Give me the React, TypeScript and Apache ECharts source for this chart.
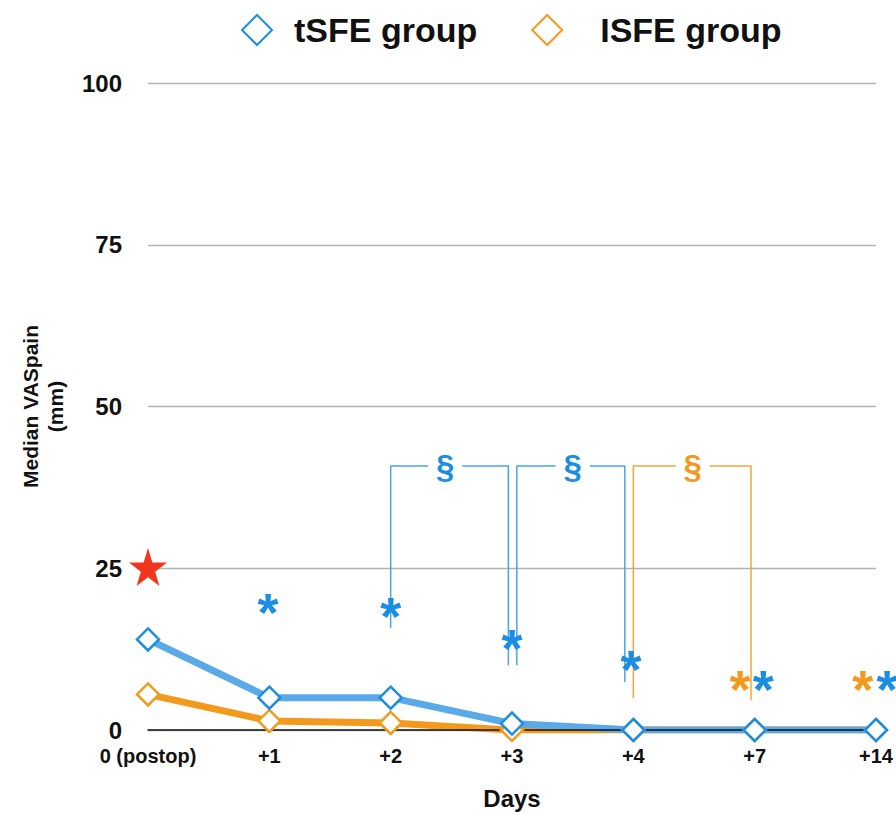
import React, { useEffect, useRef } from "react";
import * as echarts from "echarts";

const categories = ["0 (postop)", "+1", "+2", "+3", "+4", "+7", "+14"];
const tSFE = [14, 5, 5, 1, 0, 0, 0];
const ISFE = [5.5, 1.4, 1.1, 0, 0, 0, 0];
const yTicks = { min: 0, max: 100, interval: 25 };

// annotations in (day-index, VAS) coordinates
const starPoint = [[0, 25.2]];
const blueAsterisks = [[0.99, 19.6], [2.0, 19.0], [3.0, 14.0], [3.98, 10.8], [5.07, 7.8], [6.09, 7.8]];
const orangeAsterisks = [[4.88, 7.8], [5.89, 7.8]];
const bracketBlue1 = [[2.0, 15.8], [2.0, 40.8], [2.97, 40.8], [2.97, 10.0]];
const bracketBlue2 = [[3.04, 10.0], [3.04, 40.8], [3.93, 40.8], [3.93, 7.4]];
const bracketOrange = [[4.0, 4.9], [4.0, 40.8], [4.97, 40.8], [4.97, 4.6]];
const blueSections = [[2.45, 40.8], [3.5, 40.8]];
const orangeSections = [[4.49, 40.8]];

const BLUE = "#1b8ee3";
const BLUE_LINE = "#5aaaea";
const ORANGE = "#f39a1e";
const FONT = "'Liberation Sans', Arial, sans-serif";

export default function App() {
  const ref = useRef<HTMLDivElement>(null);
  useEffect(() => {
    if (!ref.current) return;
    const chart = echarts.init(ref.current, undefined, { renderer: "svg" });
    const starPath =
      "path://M50,0 L61,35 L98,35 L68,57 L79,91 L50,70 L21,91 L32,57 L2,35 L39,35 Z";
    const labelSeries = (name: string, data: number[][], text: string, color: string, size: number, offY: number, bg?: string) => ({
      type: "scatter",
      name,
      xAxisIndex: 1,
      yAxisIndex: 0,
      data,
      symbol: "circle",
      symbolSize: 1,
      itemStyle: { color: "rgba(0,0,0,0)", opacity: 1 },
      clip: false,
      silent: true,
      z: 8,
      label: {
        show: true,
        position: "inside",
        formatter: text,
        color,
        opacity: 1,
        fontSize: size,
        fontWeight: "bold",
        fontFamily: FONT,
        align: "center",
        verticalAlign: "middle",
        offset: [0, offY],
        backgroundColor: bg,
        padding: bg ? [0, 8] : 0,
      },
    });
    const bracket = (name: string, data: number[][], color: string) => ({
      type: "line",
      name,
      xAxisIndex: 1,
      yAxisIndex: 0,
      data,
      symbol: "none",
      silent: true,
      clip: false,
      z: 6,
      lineStyle: { color, width: 1.5 },
    });
    const legendText = { fontSize: 34, fontWeight: "bold", color: "#111", fontFamily: FONT };
    chart.setOption({
      animation: false,
      backgroundColor: "#fff",
      textStyle: { fontFamily: FONT },
      legend: {
        data: [
          { name: "tSFE group", textStyle: { ...legendText, padding: [0, 0, 0, 17] } },
          { name: "ISFE group", textStyle: { ...legendText, padding: [0, 0, 0, 33] } },
        ],
        left: 236,
        top: 8,
        itemWidth: 30,
        itemHeight: 30,
        itemGap: 54,
        textStyle: { ...legendText, padding: [0, 0, 0, 17] },
      },
      grid: { left: 148, right: 20, top: 83, bottom: 85 },
      xAxis: [
        {
          type: "category",
          data: categories,
          boundaryGap: false,
          z: 3,
          axisLine: { lineStyle: { color: "#111", width: 1.5 } },
          axisTick: { show: false },
          axisLabel: { interval: 0, fontSize: 20, fontWeight: "bold", color: "#111", margin: 16, fontFamily: FONT },
          name: "Days",
          nameLocation: "middle",
          nameGap: 56,
          nameTextStyle: { fontSize: 24, fontWeight: "bold", color: "#111", fontFamily: FONT },
        },
        { type: "value", min: 0, max: 6, show: false },
      ],
      yAxis: {
        type: "value",
        min: yTicks.min,
        max: yTicks.max,
        interval: yTicks.interval,
        axisLine: { show: false },
        axisTick: { show: false },
        splitLine: { lineStyle: { color: "#b3b3b3", width: 1.3 } },
        axisLabel: { fontSize: 24, fontWeight: "bold", color: "#111", margin: 26, fontFamily: FONT },
        name: "Median VASpain\n(mm)",
        nameLocation: "middle",
        nameGap: 80,
        nameTextStyle: { fontSize: 21, fontWeight: "bold", color: "#111", lineHeight: 25, fontFamily: FONT },
      },
      series: [
        {
          type: "line",
          name: "ISFE line",
          data: ISFE,
          showSymbol: false,
          symbol: "none",
          lineStyle: { color: ORANGE, width: 7 },
          z: 2,
        },
        {
          type: "line",
          name: "tSFE line",
          data: tSFE,
          showSymbol: false,
          symbol: "none",
          lineStyle: { color: BLUE_LINE, width: 7 },
          z: 2,
        },
        {
          type: "scatter",
          name: "ISFE group",
          data: ISFE,
          symbol: "diamond",
          symbolSize: 22,
          itemStyle: { color: "#fff", borderColor: ORANGE, borderWidth: 2.5, opacity: 1 },
          z: 4,
        },
        {
          type: "scatter",
          name: "tSFE group",
          data: tSFE,
          symbol: "diamond",
          symbolSize: 22,
          itemStyle: { color: "#fff", borderColor: BLUE, borderWidth: 2.5, opacity: 1 },
          z: 5,
        },
        bracket("b1", bracketBlue1, "#4aa3e6"),
        bracket("b2", bracketBlue2, "#4aa3e6"),
        bracket("b3", bracketOrange, "#f3a73a"),
        labelSeries("secBlue", blueSections, "§", BLUE, 33, 0, "#fff"),
        labelSeries("secOrange", orangeSections, "§", ORANGE, 33, 0, "#fff"),
        labelSeries("astBlue", blueAsterisks, "*", BLUE, 54, 9),
        labelSeries("astOrange", orangeAsterisks, "*", ORANGE, 54, 9),
        {
          type: "scatter",
          name: "star",
          xAxisIndex: 1,
          yAxisIndex: 0,
          data: starPoint,
          symbol: starPath,
          symbolSize: 38,
          clip: false,
          silent: true,
          itemStyle: { color: "#f2361d", opacity: 1 },
          z: 7,
        },
      ],
    });
    return () => chart.dispose();
  }, []);
  return (
    <div
      ref={ref}
      style={{ position: "fixed", left: 0, top: 0, width: 896, height: 815, background: "#fff" }}
    />
  );
}
